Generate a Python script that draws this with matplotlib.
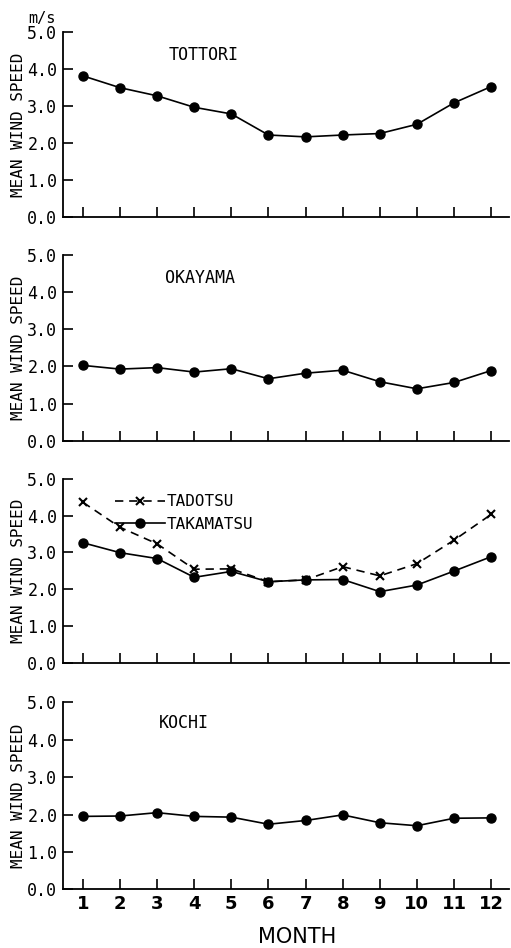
import matplotlib.pyplot as plt

# ---------------------------------------------------------
# Data
# ---------------------------------------------------------
MONTHS = list(range(1, 13))
YTICKS = [0.0, 1.0, 2.0, 3.0, 4.0, 5.0]

TOTTORI = [3.82, 3.50, 3.28, 2.97, 2.79, 2.22, 2.17, 2.22, 2.26, 2.51, 3.09, 3.53]
OKAYAMA = [2.03, 1.93, 1.97, 1.85, 1.94, 1.67, 1.82, 1.90, 1.59, 1.40, 1.57, 1.89]
TADOTSU = [4.36, 3.68, 3.23, 2.54, 2.55, 2.20, 2.25, 2.61, 2.36, 2.69, 3.33, 4.03]
TAKAMATSU = [3.26, 2.99, 2.83, 2.32, 2.48, 2.20, 2.25, 2.26, 1.93, 2.11, 2.49, 2.88]
KOCHI = [1.95, 1.96, 2.05, 1.95, 1.93, 1.74, 1.84, 1.99, 1.78, 1.70, 1.90, 1.91]

MONO = "DejaVu Sans Mono"

# ---------------------------------------------------------
# Figure layout: 4 stacked panels
# ---------------------------------------------------------
fig = plt.figure(figsize=(5.11, 9.48), dpi=100)
# (bottom, height) in figure fraction for each panel
panels = [(0.771, 0.195), (0.535, 0.196), (0.301, 0.194), (0.062, 0.197)]
axes = [fig.add_axes([0.123, b, 0.873, h]) for b, h in panels]


def style_axis(ax, show_xlabels):
    ax.set_xlim(0.46, 12.48)
    ax.set_ylim(0, 5.0)
    ax.spines["top"].set_visible(False)
    ax.spines["right"].set_visible(False)
    for s in ("left", "bottom"):
        ax.spines[s].set_linewidth(1.3)
    ax.set_yticks(YTICKS)
    ax.set_yticklabels([f"{v:.1f}" for v in YTICKS], fontsize=12, family=MONO)
    ax.set_xticks(MONTHS)
    if show_xlabels:
        ax.set_xticklabels([str(m) for m in MONTHS], fontsize=13,
                           family="DejaVu Sans", fontweight="bold")
    else:
        ax.set_xticklabels([])
    ax.tick_params(direction="in", length=7, width=1.2, pad=4)
    ax.set_ylabel("MEAN WIND SPEED", fontsize=11.5, family=MONO, labelpad=1)


line_kw = dict(color="black", lw=1.2, marker="o", markersize=6.5)

ax = axes[0]
ax.plot(MONTHS, TOTTORI, **line_kw)
ax.text(3.3, 4.38, "TOTTORI", fontsize=12, family=MONO, va="center")
ax.text(-0.078, 1.035, "m/s", fontsize=11, family=MONO,
        transform=ax.transAxes, ha="left", va="bottom")
style_axis(ax, False)

ax = axes[1]
ax.plot(MONTHS, OKAYAMA, **line_kw)
ax.text(3.2, 4.38, "OKAYAMA", fontsize=12, family=MONO, va="center")
style_axis(ax, False)

ax = axes[2]
ax.plot(MONTHS, TADOTSU, color="black", lw=1.2, ls=(0, (5, 3.5)),
        marker="x", markersize=6, markeredgewidth=1.5, label="TADOTSU")
ax.plot(MONTHS, TAKAMATSU, label="TAKAMATSU", **line_kw)
ax.legend(loc="upper left", bbox_to_anchor=(0.103, 0.95), frameon=False,
          borderaxespad=0, handlelength=3.1, handletextpad=0.15,
          labelspacing=0.45, prop={"family": MONO, "size": 11.5})
style_axis(ax, False)

ax = axes[3]
ax.plot(MONTHS, KOCHI, **line_kw)
ax.text(3.05, 4.44, "KOCHI", fontsize=12, family=MONO, va="center")
style_axis(ax, True)
ax.set_xlabel("MONTH", fontsize=15, labelpad=8)
ax.xaxis.set_label_coords(0.525, -0.2)

fig.savefig("out.png", dpi=100)
